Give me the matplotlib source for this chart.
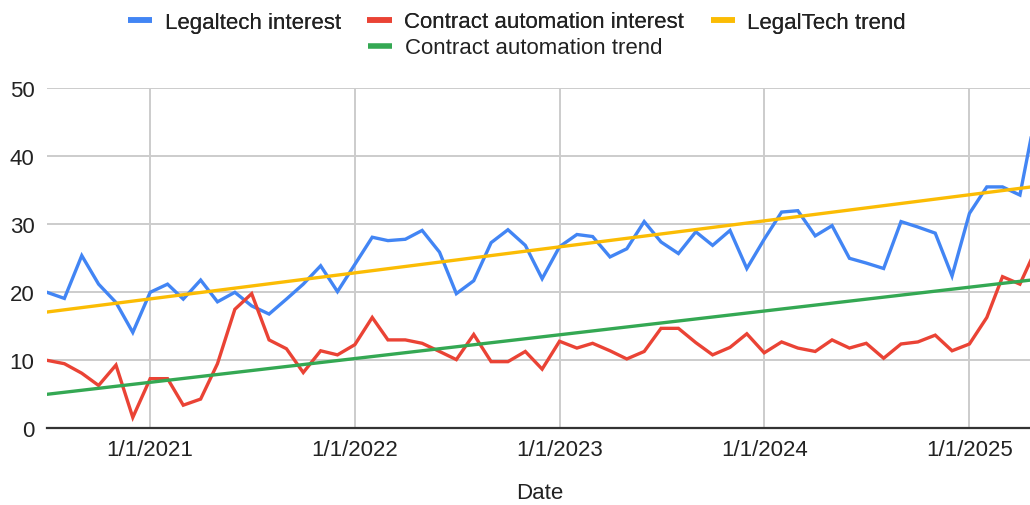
import numpy as np
import pandas as pd
import matplotlib
matplotlib.use("Agg")
import matplotlib.pyplot as plt
import matplotlib.dates as mdates
from matplotlib.lines import Line2D

plt.rcParams['font.family'] = ['Liberation Sans', 'DejaVu Sans']

# ---- data (monthly, Jul 2020 - May 2025) ----
start_month = "2020-07-01"
legaltech = [20.0, 19.1, 25.4, 21.2, 18.5, 14.1,
             20.0, 21.2, 19.0, 21.8, 18.6, 20.0, 18.0, 16.8, 19.0, 21.2, 23.9, 20.1,
             24.1, 28.1, 27.6, 27.8, 29.1, 25.9, 19.8, 21.7, 27.3, 29.2, 26.9, 22.0,
             26.7, 28.5, 28.2, 25.2, 26.4, 30.4, 27.4, 25.7, 28.9, 26.9, 29.1, 23.5,
             27.8, 31.8, 32.0, 28.3, 29.8, 25.0, 24.3, 23.5, 30.4, 29.6, 28.7, 22.4,
             31.6, 35.5, 35.5, 34.3, 47.0]
contract = [10.0, 9.5, 8.1, 6.3, 9.3, 1.6,
            7.3, 7.3, 3.4, 4.3, 9.5, 17.5, 19.8, 13.0, 11.7, 8.2, 11.4, 10.8,
            12.3, 16.3, 13.0, 13.0, 12.5, 11.3, 10.1, 13.8, 9.8, 9.8, 11.3, 8.7,
            12.8, 11.8, 12.5, 11.4, 10.2, 11.3, 14.7, 14.7, 12.6, 10.8, 11.9, 13.9,
            11.1, 12.7, 11.8, 11.3, 13.0, 11.8, 12.5, 10.3, 12.4, 12.7, 13.7, 11.4,
            12.4, 16.3, 22.3, 21.2, 26.6]
# trend lines (value at first and last month)
trend_dates = ["2020-07-01", "2025-05-01"]
legaltech_trend = [17.1, 35.6]
contract_trend = [5.0, 21.9]
year_ticks = ["2021-01-01", "2022-01-01", "2023-01-01", "2024-01-01", "2025-01-01"]
year_labels = ["1/1/2021", "1/1/2022", "1/1/2023", "1/1/2024", "1/1/2025"]
series_names = ["Legaltech interest", "Contract automation interest",
                "LegalTech trend", "Contract automation trend"]

dates = pd.date_range(start_month, periods=len(legaltech), freq="MS")
xnum = mdates.date2num(dates)
xt = mdates.date2num(pd.to_datetime(trend_dates))

BLUE, RED, YELLOW, GREEN = "#4285F4", "#EA4335", "#FBBC04", "#34A853"
FS = 16

fig = plt.figure(figsize=(10.30, 5.06), dpi=100)
ax = fig.add_axes([47/1030, 1-429.3/506, 1-47/1030, (429.3-89.3)/506])

lw = 2.4
ax.plot(xnum, legaltech, color=BLUE, lw=lw, zorder=3, solid_joinstyle='miter')
ax.plot(xnum, contract, color=RED, lw=lw, zorder=3, solid_joinstyle='miter')
ax.plot(xt, legaltech_trend, color=YELLOW, lw=lw, zorder=4)
ax.plot(xt, contract_trend, color=GREEN, lw=lw, zorder=4)

ax.set_xlim(mdates.date2num(pd.Timestamp("2020-07-01")),
            mdates.date2num(pd.Timestamp("2025-04-19")))
ax.set_ylim(0, 50)
ax.set_yticks([0, 10, 20, 30, 40, 50])
ax.set_xticks(mdates.date2num(pd.to_datetime(year_ticks)))
ax.set_xticklabels(year_labels)
ax.grid(True, color="#cccccc", lw=1.4, zorder=0)
ax.set_axisbelow(True)
for s in ["top", "right", "left"]:
    ax.spines[s].set_visible(False)
ax.spines["bottom"].set_color("#333333")
ax.spines["bottom"].set_linewidth(1.6)
ax.spines["bottom"].set_zorder(5)
ax.tick_params(axis="both", length=0, labelsize=FS, colors="#222222")
ax.tick_params(axis="y", pad=9)
ax.tick_params(axis="x", pad=8)

fig.text(540/1030, 1-494/506, "Date", ha="center", va="center", fontsize=FS, color="#222222")

def handle(c):
    return Line2D([], [], color=c, lw=4, solid_capstyle='butt')

leg1 = fig.legend([handle(BLUE), handle(RED), handle(YELLOW)], series_names[:3],
                  loc="center", bbox_to_anchor=(517/1030, 1-23/506), ncol=3, frameon=False,
                  fontsize=FS, handlelength=1.1, handletextpad=0.55, columnspacing=1.2,
                  borderaxespad=0, borderpad=0)
for t in leg1.get_texts():
    t.set_color("#222222")
leg2 = fig.legend([handle(GREEN)], series_names[3:],
                  loc="center", bbox_to_anchor=(515/1030, 1-49/506), ncol=1, frameon=False,
                  fontsize=FS, handlelength=1.1, handletextpad=0.55,
                  borderaxespad=0, borderpad=0)
for t in leg2.get_texts():
    t.set_color("#222222")
fig.add_artist(leg1)

fig.savefig("out.png", dpi=100)
